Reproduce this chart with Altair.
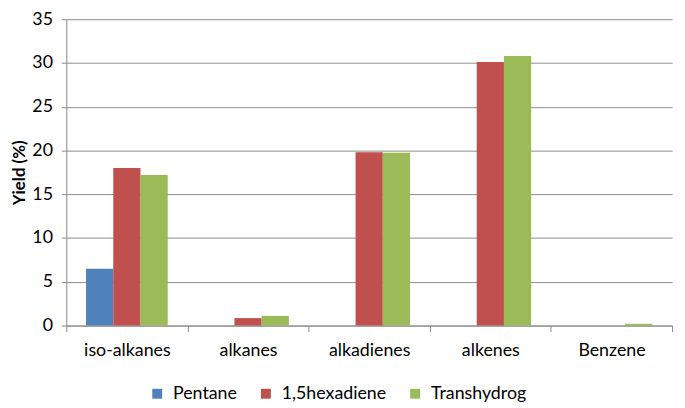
import altair as alt
import pandas as pd

categories = ["iso-alkanes", "alkanes", "alkadienes", "alkenes", "Benzene"]
series = ["Pentane", "1,5hexadiene", "Transhydrog"]
pentane = [6.5, 0, 0, 0, 0]
hexadiene = [18.0, 0.85, 19.8, 30.1, 0]
transhydrog = [17.2, 1.1, 19.75, 30.8, 0.2]
colors = ["#4F81BD", "#C0504D", "#9BBB59"]
y_ticks = [0, 5, 10, 15, 20, 25, 30, 35]

rows = []
for s, vals in zip(series, [pentane, hexadiene, transhydrog]):
    for c, v in zip(categories, vals):
        rows.append({"category": c, "series": s, "value": v})
df = pd.DataFrame(rows)

FONT = "Lato"

chart = alt.Chart(df).mark_bar().encode(
    x=alt.X("category:N", sort=categories,
            scale=alt.Scale(paddingInner=0, paddingOuter=0),
            axis=alt.Axis(title=None, tickBand="extent", labelFontSize=18,
                          labelFont=FONT, labelColor="#000000", labelPadding=10,
                          tickSize=6, tickColor="#888888", domainColor="#888888",
                          labelAngle=0, grid=False)),
    xOffset=alt.XOffset("series:N", sort=series,
                        scale=alt.Scale(paddingInner=0, paddingOuter=0.725)),
    y=alt.Y("value:Q", scale=alt.Scale(domain=[0, 35], nice=False),
            axis=alt.Axis(title="Yield (%)", values=y_ticks, titleFont=FONT,
                          titleFontSize=17, titleFontWeight="bold", titleColor="#000000",
                          titlePadding=3, labelFont=FONT, labelFontSize=18,
                          labelColor="#000000", labelPadding=9, tickSize=5,
                          tickColor="#888888", domainColor="#888888",
                          gridColor="#8c8c8c", gridWidth=1)),
    color=alt.Color("series:N", sort=series,
                    scale=alt.Scale(domain=series, range=colors),
                    legend=alt.Legend(title=None, orient="none", direction="horizontal",
                                      legendX=83, legendY=370, symbolType="square",
                                      symbolSize=100, symbolStrokeWidth=0,
                                      labelFont=FONT, labelFontSize=18,
                                      labelColor="#000000", labelOffset=7,
                                      columnPadding=20, padding=0)),
).properties(
    width=613, height=310,
    autosize=alt.AutoSizeParams(type="none"),
    padding={"left": 59, "top": 9, "right": 5, "bottom": 75},
).configure_view(stroke=None)

chart.save("out.html", embed_options={"renderer": "svg", "actions": False})
